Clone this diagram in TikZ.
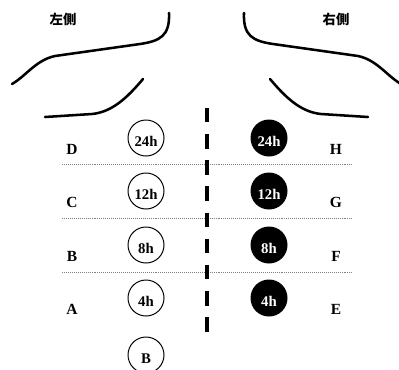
\documentclass[tikz,border=0pt]{standalone}
\usepackage{fontspec}
\setmainfont{Liberation Serif}
\newfontfamily\cjk{Noto Sans CJK TC}

\begin{document}
\begin{tikzpicture}[x=0.025cm,y=-0.025cm,
    tag/.style={font=\bfseries\fontsize{11}{13}\selectfont},
    head/.style={font=\cjk\bfseries\fontsize{9.5}{11}\selectfont},
    dose/.style={circle,draw,line width=0.7pt,minimum size=0.9cm,inner sep=0pt,
      font=\bfseries\fontsize{10.5}{12}\selectfont,text height=12.5pt,text depth=0pt},
    dark/.style={dose,fill=black,text=white},
    shore/.style={line width=1.8pt,line cap=round},
    row/.style={gray,line width=0.6pt,dash pattern=on 0.7pt off 0.7pt}]
  \useasboundingbox (0,0) rectangle (399,369);

  % side headings
  \node[head] (lside) at (63,19) {左側};
  \node[head] (rside) at (336,19) {右側};

  % outlines, left and right
  \draw[shore] (169,13) .. controls (170,36) and (160,41) .. (140,44)
        -- (55,56) .. controls (36,60) and (26,76) .. (12,84);
  \draw[shore] (45,117) -- (92,114) .. controls (112,112) and (127,98) .. (143,79);
  \draw[shore] (244,13) .. controls (243,36) and (253,41) .. (273,44)
        -- (358,56) .. controls (377,60) and (387,76) .. (401,84);
  \draw[shore] (368,117) -- (321,114) .. controls (301,112) and (286,98) .. (270,79);

  % rows
  \foreach \y in {164,218,272}
    \draw[row] (62,\y) -- (353,\y);
  \draw[line width=2.6pt,dash pattern=on 10.3pt off 8.3pt] (207,108) -- (207,333);

  % doses
  \foreach \t/\y [count=\i] in {24h/138,12h/191,8h/245,4h/298} {
    \node[dose] (l\i) at (146,\y) {\t};
    \node[dark] (r\i) at (269,\y) {\t};
  }
  \node[dose] (base) at (146,355) {B};

  % row letters
  \foreach \a/\b/\y in {D/H/149,C/G/202,B/F/256,A/E/309} {
    \node[tag] (\a) at (72,\y) {\a};
    \node[tag] (\b) at (336,\y) {\b};
  }
\end{tikzpicture}
\end{document}
